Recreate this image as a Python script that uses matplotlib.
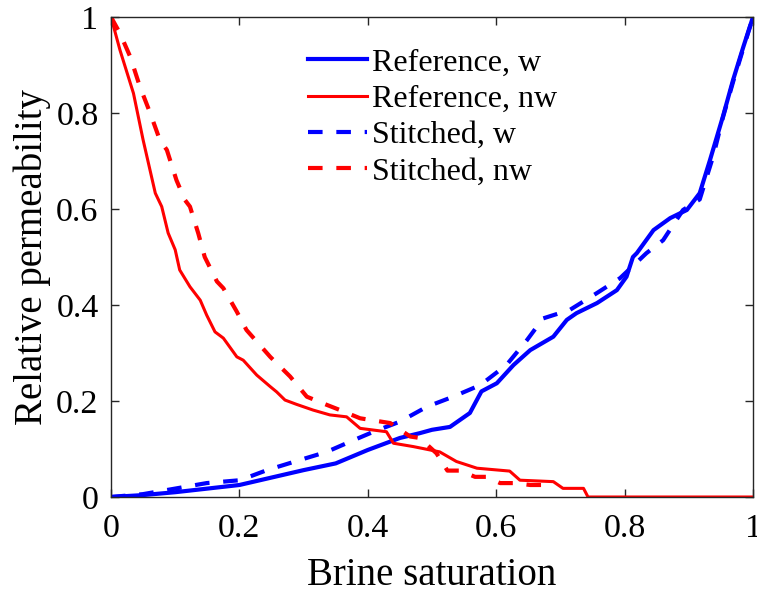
import numpy as np
import matplotlib
matplotlib.use("Agg")
import matplotlib.pyplot as plt

plt.rcParams["font.family"] = ["Liberation Serif", "DejaVu Serif"]

# Reference, wetting phase
ref_w_sw = [0.0, 0.05, 0.1, 0.2, 0.3, 0.35, 0.4, 0.43, 0.45, 0.481, 0.5, 0.528,
            0.559, 0.577, 0.601, 0.627, 0.653, 0.689, 0.71, 0.725, 0.757, 0.788,
            0.803, 0.813, 0.819, 0.845, 0.871, 0.897, 0.917, 0.933, 0.953, 0.969,
            0.985, 1.0]
ref_w_kr = [0.0, 0.004, 0.01, 0.025, 0.056, 0.07, 0.098, 0.113, 0.123, 0.133, 0.14,
            0.146, 0.175, 0.22, 0.237, 0.275, 0.306, 0.334, 0.369, 0.383, 0.404,
            0.431, 0.459, 0.50, 0.508, 0.556, 0.581, 0.598, 0.633, 0.702, 0.792,
            0.869, 0.938, 1.0]

# Reference, non-wetting phase
ref_nw_sw = [0.0, 0.014, 0.035, 0.05, 0.069, 0.079, 0.089, 0.1, 0.107, 0.123,
             0.139, 0.149, 0.162, 0.175, 0.196, 0.206, 0.227, 0.248, 0.258, 0.271,
             0.289, 0.315, 0.341, 0.367, 0.388, 0.429, 0.44, 0.471, 0.497, 0.512,
             0.538, 0.57, 0.621, 0.637, 0.689, 0.704, 0.736, 0.743, 1.0]
ref_nw_kr = [1.0, 0.931, 0.841, 0.744, 0.633, 0.605, 0.55, 0.515, 0.473, 0.438,
             0.41, 0.379, 0.344, 0.331, 0.292, 0.285, 0.254, 0.23, 0.219, 0.202,
             0.193, 0.181, 0.171, 0.167, 0.143, 0.136, 0.112, 0.105, 0.098, 0.094,
             0.074, 0.06, 0.054, 0.035, 0.032, 0.018, 0.018, 0.0, 0.0]

# Stitched, wetting phase
st_w_sw = [0.0, 0.05, 0.102, 0.149, 0.201, 0.243, 0.294, 0.336, 0.372, 0.409, 0.45,
           0.492, 0.533, 0.575, 0.616, 0.648, 0.673, 0.715, 0.757, 0.793, 0.834,
           0.86, 0.891, 0.917, 0.938, 0.953, 0.969, 0.985, 1.0]
st_w_kr = [0.0, 0.006, 0.018, 0.029, 0.035, 0.056, 0.077, 0.094, 0.115, 0.136, 0.157,
           0.188, 0.209, 0.233, 0.275, 0.327, 0.372, 0.39, 0.425, 0.456, 0.508,
           0.535, 0.598, 0.62, 0.71, 0.79, 0.865, 0.935, 1.0]

# Stitched, non-wetting phase
st_nw_sw = [0.0, 0.014, 0.03, 0.045, 0.061, 0.076, 0.087, 0.102, 0.115, 0.123,
            0.136, 0.146, 0.165, 0.175, 0.196, 0.211, 0.248, 0.279, 0.305, 0.336,
            0.357, 0.388, 0.435, 0.466, 0.481, 0.507, 0.524, 0.544, 0.567, 0.585,
            0.606, 0.629, 0.653, 0.676, 0.69]
st_nw_kr = [1.0, 0.966, 0.917, 0.855, 0.8, 0.744, 0.723, 0.66, 0.619, 0.605,
            0.549, 0.5, 0.449, 0.435, 0.386, 0.348, 0.292, 0.251, 0.209, 0.192,
            0.181, 0.164, 0.154, 0.126, 0.123, 0.091, 0.055, 0.055, 0.042, 0.042,
            0.029, 0.029, 0.025, 0.025, 0.025]

ticks = [0, 0.2, 0.4, 0.6, 0.8, 1]
tick_labels = ["0", "0.2", "0.4", "0.6", "0.8", "1"]

fig = plt.figure(figsize=(7.57, 5.94), dpi=100)
ax = fig.add_axes([111/757, 97/594, 642/757, 480/594])

ax.plot(ref_w_sw, ref_w_kr, color="blue", lw=3, label="Reference, w")
ax.plot(ref_nw_sw, ref_nw_kr, color="red", lw=2.2, label="Reference, nw")
ax.plot(st_w_sw, st_w_kr, color="blue", lw=3, ls=(0, (3.5, 3.3)), label="Stitched, w")
ax.plot(st_nw_sw, st_nw_kr, color="red", lw=3, ls=(0, (3.5, 3.3)), label="Stitched, nw")

ax.set_xlim(0, 1); ax.set_ylim(0, 1)
ax.set_xticks(ticks); ax.set_xticklabels(tick_labels)
ax.set_yticks(ticks); ax.set_yticklabels(tick_labels)
ax.tick_params(direction="in", length=6, width=1, top=True, right=True,
               labelsize=24.5, colors="#262626", labelcolor="black")
ax.tick_params(axis="x", pad=12)
ax.tick_params(axis="y", pad=9)
for s in ax.spines.values():
    s.set_color("#262626"); s.set_linewidth(1)
ax.set_xlabel("Brine saturation", fontsize=28, labelpad=9)
ax.set_ylabel("Relative permeability", fontsize=28, labelpad=4)

ax.legend(loc="upper left", bbox_to_anchor=(308/757, 1 - 48/594),
          bbox_transform=fig.transFigure, frameon=False, fontsize=23,
          handlelength=1.84, handletextpad=0.16, labelspacing=0.22,
          borderpad=0, borderaxespad=0)

fig.savefig("out.png", dpi=100)
